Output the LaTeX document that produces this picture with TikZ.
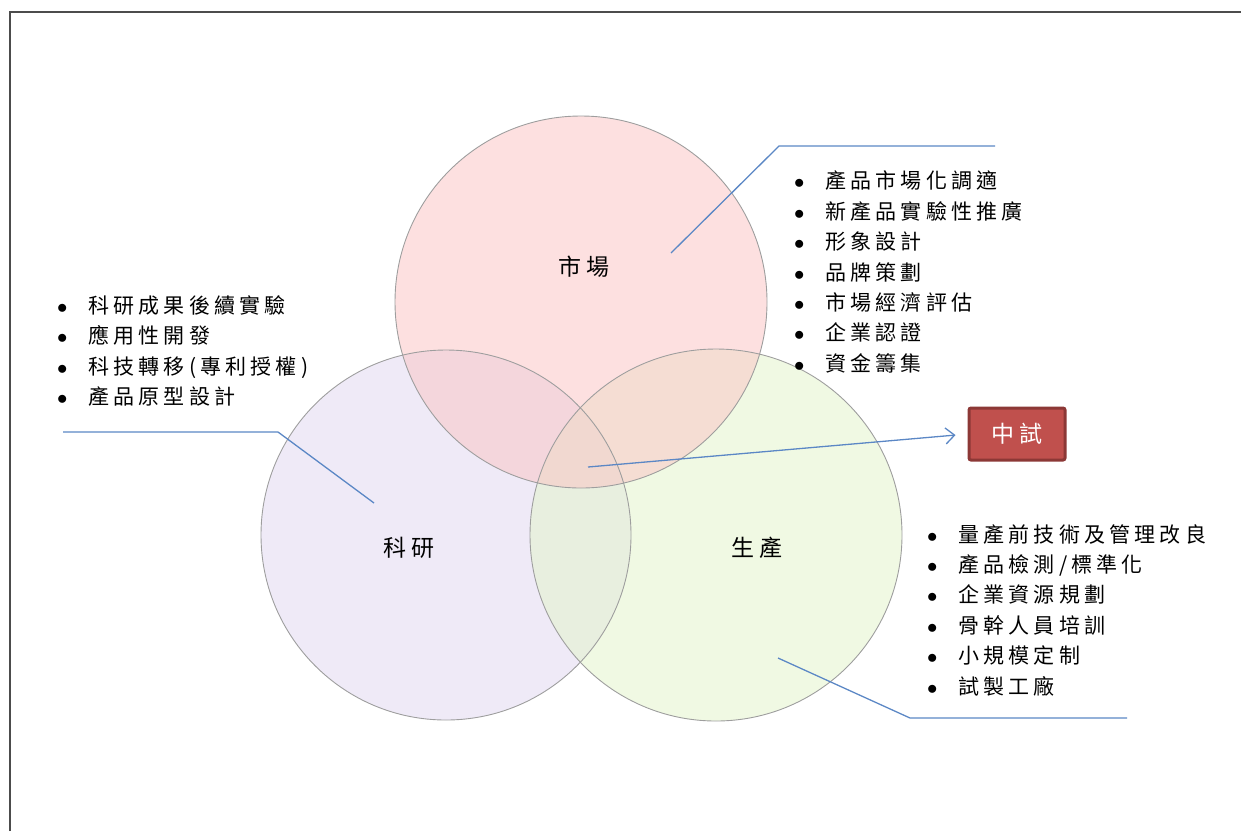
\documentclass[tikz,border=0pt]{standalone}
\usepackage{fontspec}
\newfontfamily\cjk[LetterSpace=20]{Noto Sans CJK TC}
\usetikzlibrary{arrows.meta}

\definecolor{mktfill}{HTML}{FBC2C2}
\definecolor{resfill}{HTML}{DFD6F0}
\definecolor{prodfill}{HTML}{E2F4C8}
\definecolor{calloutblue}{HTML}{5B87C5}
\definecolor{pilotfill}{HTML}{C0504D}
\definecolor{pilotedge}{HTML}{8C3836}

\newcommand\itm{\makebox[31pt][l]{$\bullet$}}

\tikzset{
  vennedge/.style={draw=black!38,line width=0.9pt},
  callout/.style={calloutblue,line width=1.3pt},
  setlabel/.style={font=\cjk\fontsize{23}{26}\selectfont,inner sep=0pt},
  itemlist/.style={font=\cjk\fontsize{21}{30.4}\selectfont,align=left,inner sep=0pt,anchor=west},
  pilotbox/.style={draw=pilotedge,fill=pilotfill,line width=3pt,rounded corners=2pt,
    minimum width=96pt,minimum height=52pt,text=white,font=\cjk\fontsize{23}{26}\selectfont}
}

\begin{document}
\begin{tikzpicture}[x=1pt,y=-1pt]
\useasboundingbox (0,0) rectangle (1241,831);

% frame
\draw[line width=2pt,black!70] (10,831) -- (10,12) -- (1241,12);

% circles
\fill[resfill,fill opacity=0.5] (446,535) circle [radius=185];
\fill[prodfill,fill opacity=0.5] (716,535) circle [radius=186];
\fill[mktfill,fill opacity=0.5] (581,302) circle [radius=186];
\draw[vennedge] (446,535) circle [radius=185];
\draw[vennedge] (716,535) circle [radius=186];
\draw[vennedge] (581,302) circle [radius=186];

\node[setlabel] (mkt) at (584,267) {市場};
\node[setlabel] (res) at (409,548) {科研};
\node[setlabel] (prod) at (757,548) {生產};

% lists
\node[itemlist] (reslist) at (57,351) {\itm 科研成果後續實驗\\ \itm 應用性開發\\ \itm 科技轉移(專利授權)\\ \itm 產品原型設計};
\node[itemlist] (mktlist) at (794,272) {\itm 產品市場化調適\\ \itm 新產品實驗性推廣\\ \itm 形象設計\\ \itm 品牌策劃\\ \itm 市場經濟評估\\ \itm 企業認證\\ \itm 資金籌集};
\node[itemlist] (prodlist) at (927,610) {\itm 量產前技術及管理改良\\ \itm 產品檢測/標準化\\ \itm 企業資源規劃\\ \itm 骨幹人員培訓\\ \itm 小規模定制\\ \itm 試製工廠};

\node[pilotbox] (pilot) at (1017,434) {中試};

% callouts
\coordinate (mktin) at (671,253);
\coordinate (mktbend) at (779,146);
\coordinate (mktend) at (995,146);
\coordinate (resin) at (374,503);
\coordinate (resbend) at (278,432);
\coordinate (resend) at (63,432);
\coordinate (prodin) at (778,658);
\coordinate (prodbend) at (910,718);
\coordinate (prodend) at (1127,718);
\coordinate (hub) at (588,467);

\draw[callout] (mktin) -- (mktbend) -- (mktend);
\draw[callout] (resin) -- (resbend) -- (resend);
\draw[callout] (prodin) -- (prodbend) -- (prodend);
\draw[callout,-{Straight Barb[length=9pt,width=16pt]},shorten >=12pt] (hub) -- (pilot.west);

\end{tikzpicture}
\end{document}
